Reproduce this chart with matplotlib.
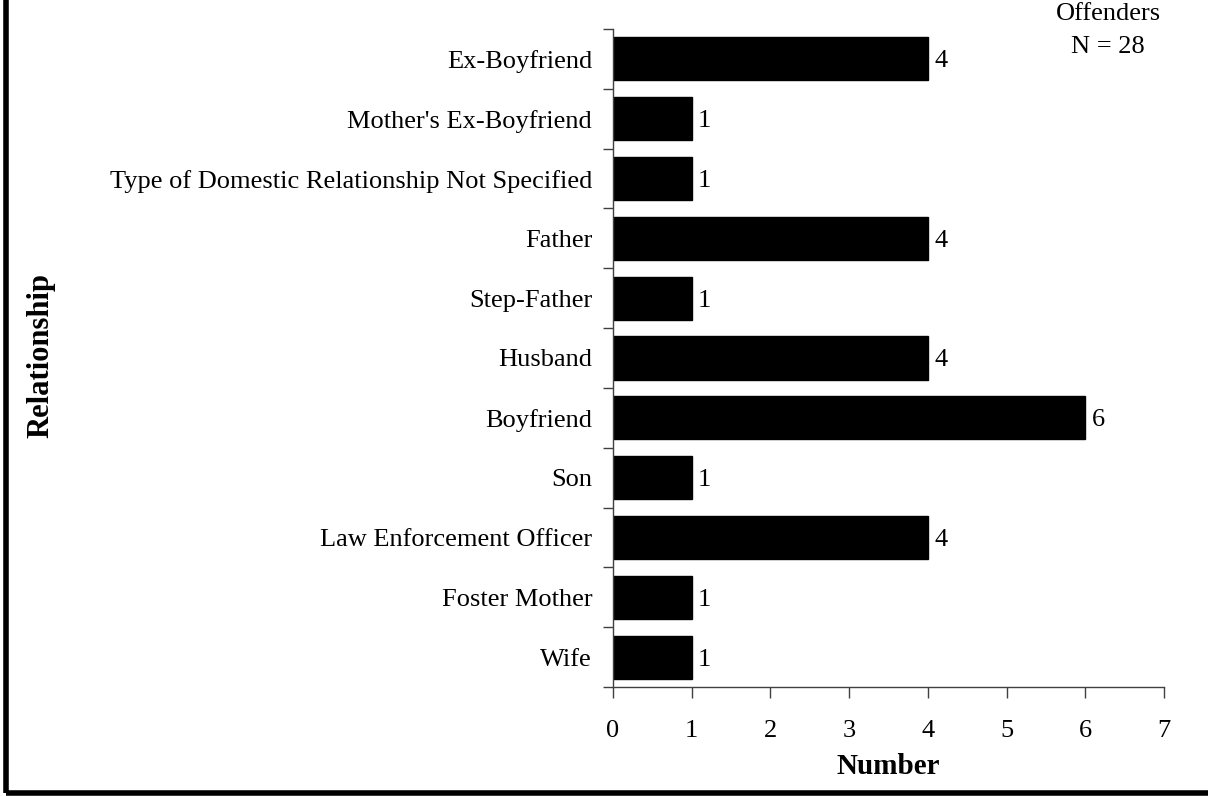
import matplotlib
matplotlib.use('Agg')
import matplotlib.pyplot as plt
from matplotlib.patches import Rectangle


relationships = ['Ex-Boyfriend', "Mother's Ex-Boyfriend",
                 'Type of Domestic Relationship Not Specified', 'Father',
                 'Step-Father', 'Husband', 'Boyfriend', 'Son',
                 'Law Enforcement Officer', 'Foster Mother', 'Wife']
counts = [4, 1, 1, 4, 1, 4, 6, 1, 4, 1, 1]
xTicks = [0, 1, 2, 3, 4, 5, 6, 7]


plt.rcParams['font.family'] = ['Liberation Serif', 'DejaVu Serif']
fontSize = 19

figure = plt.figure(figsize=(12.08, 7.96), dpi=100)
axes = figure.add_axes([613 / 1208, 1 - 687 / 796,
                        (1164 - 613) / 1208, (687 - 29) / 796])

positions = list(range(len(relationships)))
axes.barh(positions, counts, height=0.72, color='black', edgecolor='black')

for pos, val in zip(positions, counts):
    axes.text(val + 0.08, pos, str(val), ha='left', va='center_baseline',
              fontsize=fontSize)

axes.set_ylim(len(relationships) - 0.5, -0.5)
axes.set_xlim(0, 7)
axes.set_xticks(xTicks)
axes.set_yticks(positions)
axes.set_yticklabels(relationships)
axes.set_yticks([p - 0.5 for p in range(len(relationships) + 1)], minor=True)

axes.tick_params(axis='y', which='major', length=0, pad=15,
                 labelsize=fontSize)
axes.tick_params(axis='y', which='minor', length=7, width=1, color='#404040')
axes.tick_params(axis='x', length=8, width=1, color='#404040', pad=16,
                 labelsize=fontSize)

for side in ('top', 'right'):
    axes.spines[side].set_visible(False)
for side in ('left', 'bottom'):
    axes.spines[side].set_color('#404040')
    axes.spines[side].set_linewidth(1)

figure.text(41 / 1208, 1 - 355 / 796, 'Relationship', rotation=90,
            ha='center', va='center', fontsize=22, fontweight='bold')
figure.text(888 / 1208, 1 - 766 / 796, 'Number', ha='center', va='center',
            fontsize=21, fontweight='bold')
figure.text(1108 / 1208, 1 - 14 / 796, 'Offenders', ha='center',
            va='center', fontsize=fontSize)
figure.text(1108 / 1208, 1 - 47 / 796, 'N = 28', ha='center',
            va='center', fontsize=fontSize)

# outer frame, only left and bottom edges fall inside the picture
frame = Rectangle((5.5 / 1208, 3 / 796), 2, 2, transform=figure.transFigure,
                  fill=False, edgecolor='black', linewidth=4)
figure.patches.append(frame)

figure.savefig('out.png', dpi=100)
plt.close(figure)
